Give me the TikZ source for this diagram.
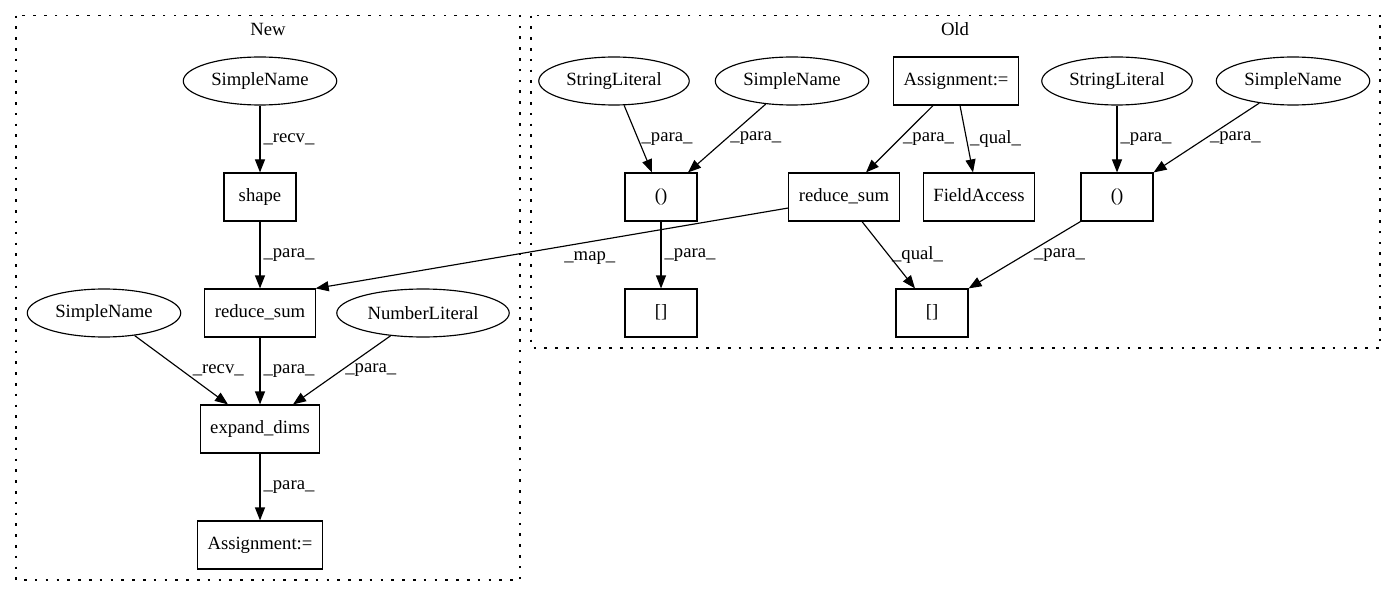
\documentclass[tikz,border=0pt]{standalone}
\usepackage{fontspec}
\setmainfont{Liberation Serif}
\usetikzlibrary{shapes.geometric,arrows.meta}
\pgfdeclarelayer{bg}
\pgfsetlayers{bg,main}

\begin{document}
\begin{tikzpicture}[x=1pt, y=-1pt,
        every node/.style={font=\fontsize{18.67}{22}\selectfont},
        ast/.style={draw, ellipse, line width=1.15pt, inner xsep=5.5pt, inner ysep=0pt, minimum height=48pt},
        stmt/.style={draw, rectangle, line width=1.15pt, inner xsep=10pt, minimum width=72pt, minimum height=48pt, text height=13pt, text depth=4pt},
        arr/.style={line width=1.15pt, -{Triangle[length=13pt, width=10pt]}},
        elabel/.style={anchor=west, inner sep=3pt},
        cluster/.style={line width=1.3pt, dash pattern=on 2.6pt off 8.2pt}]
        \useasboundingbox (0,0) rectangle (1397,596);
        \draw [cluster] (16,15.7) rectangle (520,580);
        \draw [cluster] (531,15.7) rectangle (1380,348);
        \node (c0) at (268,29) {New};
        \node (c1) at (955,29) {Old};
        % new
        \node (v0) [ast] at (260,81) {SimpleName};
        \node (v1) [stmt] at (260,197) {shape};
        \node (v2) [stmt] at (260,313) {reduce\_sum};
        \node (v3) [ast] at (104,313) {SimpleName};
        \node (v4) [ast] at (423,313) {NumberLiteral};
        \node (v5) [stmt] at (260,429) {expand\_dims};
        \node (v6) [stmt] at (260,545) {Assignment:=};
        % old
        \node (v7) [ast] at (614,81) {StringLiteral};
        \node (v8) [ast] at (792,81) {SimpleName};
        \node (v9) [stmt] at (956,81) {Assignment:=};
        \node (v10) [ast] at (1117,81) {StringLiteral};
        \node (v11) [ast] at (1293,81) {SimpleName};
        \node (v12) [stmt] at (661,197) {()};
        \node (v13) [stmt] at (844,197) {reduce\_sum};
        \node (v14) [stmt] at (979,197) {FieldAccess};
        \node (v15) [stmt] at (1117,197) {()};
        \node (v16) [stmt] at (661,313) {[]};
        \node (v17) [stmt] at (932,313) {[]};
        \begin{pgfonlayer}{bg}
                \draw (v0) edge [arr] node [elabel] {\_recv\_} (v1);
                \draw (v1) edge [arr] node [elabel] {\_para\_} (v2);
                \draw (v2) edge [arr] node [elabel] {\_para\_} (v5);
                \draw (v3) edge [arr] node [elabel, xshift=8pt] {\_recv\_} ([xshift=-32pt]v5.north);
                \draw (v4) edge [arr] node [elabel] {\_para\_} ([xshift=33pt]v5.north);
                \draw (v5) edge [arr] node [elabel] {\_para\_} (v6);
                \draw ([yshift=-11pt]v13.west) edge [arr] node [elabel, pos=0.42, anchor=north, yshift=-6pt] {\_map\_} (v2.north east);
                \draw (v7) edge [arr] node [elabel] {\_para\_} ([xshift=-9pt]v12.north);
                \draw (v8) edge [arr] node [elabel] {\_para\_} ([xshift=27pt]v12.north);
                \draw ([xshift=-23pt]v9.south) edge [arr] node [elabel] {\_para\_} ([xshift=22pt]v13.north);
                \draw ([xshift=4pt]v9.south) edge [arr] node [elabel] {\_qual\_} ([xshift=-6pt]v14.north);
                \draw (v10) edge [arr] node [elabel] {\_para\_} (v15);
                \draw (v11) edge [arr] node [elabel] {\_para\_} (v15.north east);
                \draw (v12) edge [arr] node [elabel] {\_para\_} (v16);
                \draw ([xshift=18pt]v13.south) edge [arr] node [elabel] {\_qual\_} ([xshift=-17pt]v17.north);
                \draw (v15.south west) edge [arr] node [elabel, xshift=6pt] {\_para\_} (v17.north east);
        \end{pgfonlayer}
\end{tikzpicture}
\end{document}
